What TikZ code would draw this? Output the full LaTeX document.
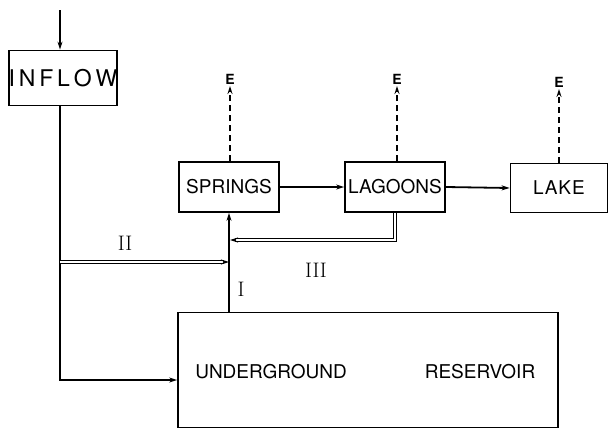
\documentclass[tikz,border=0pt]{standalone}
\usepackage{fontspec}
\setsansfont{TeX Gyre Heros}
\usetikzlibrary{arrows.meta}
\begin{document}
\begin{tikzpicture}[x=1pt,y=-1pt, line width=1.8pt,
  >={Stealth[length=8pt,width=5pt]},
  box/.style={draw, inner sep=0pt, font=\sffamily\fontsize{19}{19}\selectfont},
  dbl/.style={double, line width=0.9pt, double distance=2pt},
  evap/.style={dashed, dash pattern=on 6pt off 4pt, line width=2pt},
  elabel/.style={inner sep=1pt, font=\sffamily\bfseries\fontsize{14}{14}\selectfont},
  roman/.style={inner sep=0pt, font=\rmfamily\fontsize{21}{21}\selectfont}]
\useasboundingbox (0,0) rectangle (610,429);
% boxes
\node[box, minimum width=100pt, minimum height=55pt] (inflow) at (63,78) {\fontsize{23}{23}\selectfont I\,N\,F\,L\,O\,W};
\node[box, minimum width=100pt, minimum height=50pt] (springs) at (229,187) {SPRINGS};
\node[box, minimum width=100pt, minimum height=50pt] (lagoons) at (395,187) {LAGOONS};
\node[box, minimum width=97pt, minimum height=49pt] (lake) at (559,188) {L\kern1ptA\kern1ptK\kern1ptE};
\node[box, minimum width=380pt, minimum height=115pt] (res) at (368,370) {};
\node[inner sep=0pt, font=\sffamily\fontsize{19}{19}\selectfont] (ug) at (271,372) {UNDERGROUND};
\node[inner sep=0pt, font=\sffamily\fontsize{19}{19}\selectfont] (rv) at (480,372) {RESERVOIR};
% evaporation
\node[elabel] (e1) at (230,79) {E};
\node[elabel] (e2) at (397,79) {E};
\node[elabel] (e3) at (559,82) {E};
\draw[evap,->] (springs.north -| e1) -- (e1.south);
\draw[evap,->] (lagoons.north -| e2) -- (e2.south);
\draw[evap,->] (lake.north -| e3) -- (e3.south);
% surface flows
\draw[->] (springs.east) -- (lagoons.west);
\draw[->] (lagoons.east) -- (lake.west);
% inflow
\coordinate (in0) at (60,10);
\draw[->] (in0) -- (inflow.north -| in0);
\coordinate (a2) at (60,262);
\coordinate (b2) at (229,262);
\coordinate (c1) at (60,380);
\draw[->] (inflow.south -| a2) -- (c1) -- (res.west |- c1);
% path I
\draw[->] (res.north -| b2) -- (springs.south -| b2);
% path II
\draw[dbl,->] (a2) -- (b2);
% path III
\coordinate (c3) at (395,240);
\coordinate (d3) at (230,240);
\draw[dbl,->] (lagoons.south -| c3) -- (c3) -- (d3);
% labels
\node[roman] (l2) at (125,243) {II};
\node[roman] (l3) at (316,270) {III};
\node[roman] (l1) at (241,289) {I};
\end{tikzpicture}
\end{document}
